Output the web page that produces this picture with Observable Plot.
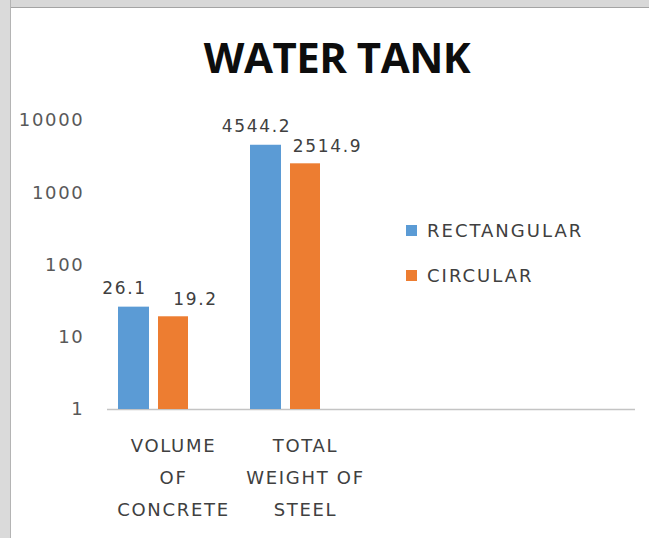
<!DOCTYPE html>
<html>
<head>
<meta charset="utf-8">
<script src="https://cdn.jsdelivr.net/npm/d3@7"></script>
<script src="https://cdn.jsdelivr.net/npm/@observablehq/plot@0.6"></script>
<style>
  html, body { margin: 0; padding: 0; background: #ffffff; }
  #page { position: relative; width: 649px; height: 538px; background: #ffffff; overflow: hidden; }
  #stripTop { position: absolute; left: 0; top: 0; width: 649px; height: 7px; background: #d8d8d8; border-bottom: 1px solid #a4a4a4; }
  #stripLeft { position: absolute; left: 0; top: 0; width: 10px; height: 538px; background: #dadada; border-right: 1px solid #b4b4b4; }
  #title { position: absolute; left: 25px; top: 36px; width: 624px; text-align: center;
           font-family: "Open Sans", sans-serif; font-weight: 700; font-size: 42px; line-height: 1; color: #0d0d0d; letter-spacing: -0.5px; }
  #chart { position: absolute; left: 0; top: 100px; }
  #chart svg text { letter-spacing: 1.7px; }
  #legend { position: absolute; left: 406px; top: 220px; }
  .lg-swatches { display: flex !important; flex-direction: column !important; align-items: flex-start !important; margin: 0 !important; min-height: 0 !important; }
  .lg-swatch { display: flex !important; align-items: center !important; margin: 0 0 24px 0 !important; line-height: 21px; }
  .lg-swatch > svg { margin-right: 10px !important; }
</style>
</head>
<body>
<div id="page">
  <div id="stripTop"></div>
  <div id="stripLeft"></div>
  <div id="title">WATER TANK</div>
  <div id="chart"></div>
  <div id="legend"></div>
</div>
<script>
// ---- data ----
const categories = ["VOLUME OF CONCRETE", "TOTAL WEIGHT OF STEEL"];
const categoryTickLabels = ["VOLUME\nOF\nCONCRETE", "TOTAL\nWEIGHT OF\nSTEEL"];
const seriesNames = ["RECTANGULAR", "CIRCULAR"];
const rectangular = [26.1, 4544.2];
const circular = [19.2, 2514.9];
const yTicks = [1, 10, 100, 1000, 10000];
const seriesColors = ["#5b9bd5", "#ed7d31"];

const rows = categories.flatMap((c, i) => [
  {category: c, series: seriesNames[0], value: rectangular[i]},
  {category: c, series: seriesNames[1], value: circular[i]}
]);
const rectRows = rows.filter(d => d.series === seriesNames[0]);
const circRows = rows.filter(d => d.series === seriesNames[1]);

const W = 649, H = 438;
const mL = 107, mR = 14, mT = 20, mB = 129;
const frameW = W - mL - mR;

const plot = Plot.plot({
  width: W,
  height: H,
  marginLeft: mL,
  marginRight: mR,
  marginTop: mT,
  marginBottom: mB,
  style: {fontFamily: "DejaVu Sans, sans-serif", background: "transparent", overflow: "visible"},
  x: {domain: categories, range: [mL, mL + frameW / 2], padding: 0, label: null},
  y: {type: "log", domain: [1, 10000], label: null},
  color: {domain: seriesNames, range: seriesColors},
  marks: [
    Plot.ruleY([1], {stroke: "#c4c4c4", strokeWidth: 1.5}),
    Plot.barY(rectRows, {x: "category", y1: 1, y2: "value", fill: "series", insetLeft: 11, insetRight: 90}),
    Plot.barY(circRows, {x: "category", y1: 1, y2: "value", fill: "series", insetLeft: 51, insetRight: 51}),
    Plot.text(rectRows, {x: "category", y: "value", text: d => d.value.toFixed(1), dx: -49, dy: -13,
      lineAnchor: "bottom", fontSize: 17, fill: "#404040"}),
    Plot.text(circRows, {x: "category", y: "value", text: d => d.value.toFixed(1), dx: 22, dy: -12,
      lineAnchor: "bottom", fontSize: 17, fill: "#404040"}),
    Plot.axisY({ticks: yTicks, tickFormat: d => String(d), tickSize: 0, tickPadding: 23, fontSize: 18, color: "#595959"}),
    Plot.axisX({tickFormat: d => categoryTickLabels[categories.indexOf(d)], tickSize: 0, tickPadding: 19,
      lineHeight: 1.8, fontSize: 18, color: "#404040"})
  ]
});
document.getElementById("chart").appendChild(plot);

const legend = plot.legend("color", {
  legend: "swatches",
  swatchSize: 11,
  className: "lg",
  style: {fontFamily: "DejaVu Sans, sans-serif", fontSize: "18px", letterSpacing: "2px", color: "#404040"}
});
document.getElementById("legend").appendChild(legend);
</script>
</body>
</html>
